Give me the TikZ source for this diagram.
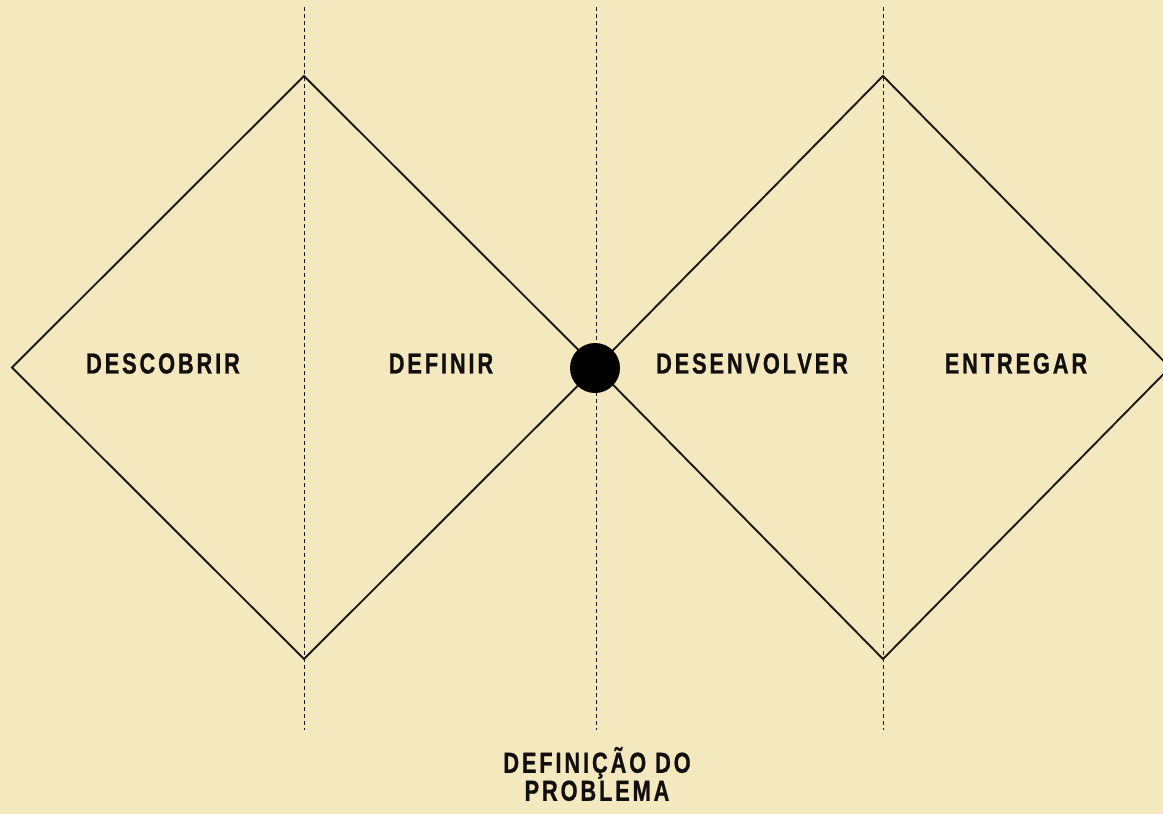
\documentclass[tikz,border=0pt]{standalone}
\usepackage{fontspec}
\setmainfont{Liberation Sans}
\newfontfamily\phasefont{Liberation Sans}[FakeStretch=0.75,LetterSpace=10,FakeBold=0.8]
\usetikzlibrary{positioning,calc}
\definecolor{paperbg}{RGB}{244, 232, 191}
\definecolor{inkline}{RGB}{30, 24, 18}
\definecolor{inktext}{RGB}{18, 16, 14}

\begin{document}
\begin{tikzpicture}[
  x=1pt, y=-1pt,
  diamondline/.style={
    draw=inkline,
    line width=1.9pt,
    line join=miter
  },
  guide/.style={
    draw=inkline,
    line width=1pt,
    dash pattern=on 4pt off 3pt
  },
  phase/.style={
    font=\phasefont\bfseries\fontsize{29}{28}\selectfont,
    text=inktext,
    anchor=center,
    align=center
  }
]

  % Background and frame
  \fill[paperbg] (0,0) rectangle (1163,814);
  \useasboundingbox (0,0) rectangle (1163,814);
  \clip (0,0) rectangle (1163,814);

  % Guide lines
  \coordinate (g1top) at (304,7);   \coordinate (g1bot) at (304,730);
  \coordinate (g2top) at (596,7);   \coordinate (g2bot) at (596,730);
  \coordinate (g3top) at (883,7);   \coordinate (g3bot) at (883,730);
  \draw[guide] (g1top) -- (g1bot);
  \draw[guide] (g2top) -- (g2bot);
  \draw[guide] (g3top) -- (g3bot);

  % Diamond vertices
  \coordinate (lw) at (12,367.5);
  \coordinate (ln) at (304,76);
  \coordinate (ls) at (304,659);
  \coordinate (mid) at (596,367.5);
  \coordinate (rn) at (883,76);
  \coordinate (rs) at (883,659);
  \coordinate (re) at (1170,367.5);

  \draw[diamondline] (lw) -- (ln) -- (mid) -- (ls) -- cycle;
  \draw[diamondline] (mid) -- (rn) -- (re) -- (rs) -- cycle;

  % Problem definition point
  \node[circle, fill=black, inner sep=0pt, minimum size=50pt] (pdot) at (595,368) {};

  % Phase labels
  \node[phase] (descobrir) at (163,363.5) {DESCOBRIR};
  \node[phase] (definir) at (441,363.5) {DEFINIR};
  \node[phase] (desenvolver) at (752,363.5) {DESENVOLVER};
  \node[phase] (entregar) at (1016,363.5) {ENTREGAR};

  \node[phase] (problema) at (597,774) {DEFINIÇÃO DO\\PROBLEMA};

\end{tikzpicture}
\end{document}
